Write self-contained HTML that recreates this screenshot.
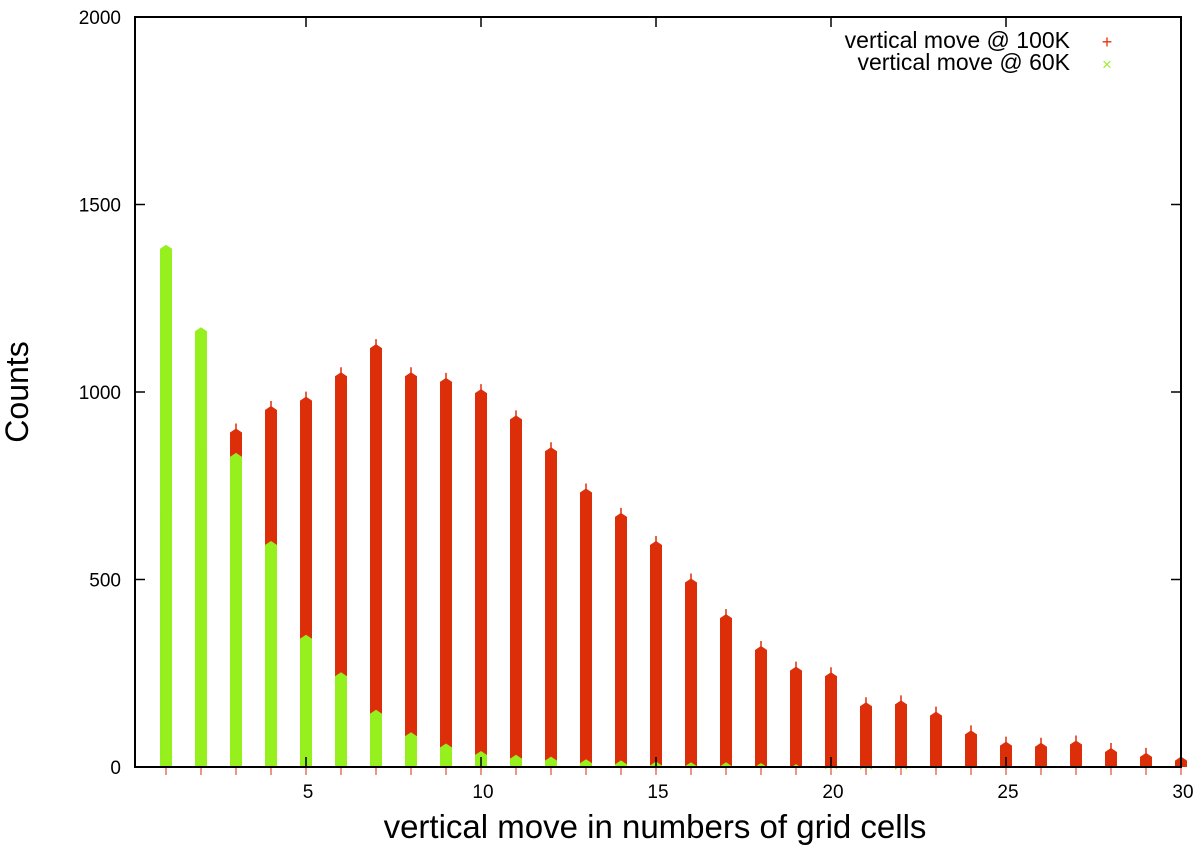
<!DOCTYPE html>
<html><head><meta charset="utf-8"><style>
body{margin:0;background:#fff}
svg{display:block;font-family:"Liberation Sans",sans-serif}
</style></head><body>
<svg id="chart" width="1200" height="845">
<g id="bars"></g>
<rect x="135" y="17" width="1046" height="750" fill="none" stroke="#000" stroke-width="2"/>
<g id="axes"></g>
<text x="28" y="392" font-size="32" text-anchor="middle" transform="rotate(-90 28 392)">Counts</text>
<text x="655" y="838" font-size="33" text-anchor="middle">vertical move in numbers of grid cells</text>
<g>
<text x="1070" y="48" font-size="23" text-anchor="end">vertical move @ 100K</text>
<text x="1107" y="48" font-size="18" fill="#e8320e" text-anchor="middle">+</text>
<text x="1070" y="70" font-size="23" text-anchor="end">vertical move @ 60K</text>
<text x="1107" y="70" font-size="17" fill="#9cf030" text-anchor="middle">×</text>
</g>
</svg>
<script>
const categories=[1,2,3,4,5,6,7,8,9,10,11,12,13,14,15,16,17,18,19,20,21,22,23,24,25,26,27,28,29,30];
const red100k=[700,850,900,960,985,1050,1125,1050,1035,1005,935,850,740,675,600,500,405,320,265,250,170,175,145,95,65,62,68,48,35,25];
const green60k=[1390,1170,835,600,350,250,150,90,60,40,30,25,18,15,12,10,10,8,5,2,1,1,0,0,0,0,0,0,0,0];
const yTicks=[0,500,1000,1500,2000];
const xTicks=[5,10,15,20,25,30];
const NS='http://www.w3.org/2000/svg';
const L=135,R=1181,T=17,B=767,XMIN=0.114,XMAX=30,YMAX=2000;
const X=v=>L+(v-XMIN)/(XMAX-XMIN)*(R-L);
const Y=v=>B-v/YMAX*(B-T);
function mk(tag,attrs,parent){const e=document.createElementNS(NS,tag);for(const k in attrs)e.setAttribute(k,attrs[k]);parent.appendChild(e);return e;}
const bars=document.getElementById('bars'),axes=document.getElementById('axes');
function bar(x,v,col){
  const w=12,top=Y(v);
  return mk('path',{d:`M${x-w/2},${B} L${x-w/2},${top+3} L${x},${top-1} L${x+w/2},${top+3} L${x+w/2},${B} Z`,fill:col},bars);
}
categories.forEach((c,i)=>{
  const x=X(c);
  const r=bar(x,red100k[i],'#dd2e0a');
  
  
  mk('line',{x1:x,x2:x,y1:Y(red100k[i])-6,y2:Y(red100k[i])+2,stroke:'#dd2e0a','stroke-width':1.5},bars);
  if(green60k[i]>0){
    const g=bar(x,green60k[i],'#96f01e');
    
    
  }
  mk('line',{x1:x,x2:x,y1:B,y2:B+8,stroke:'#dd2e0a','stroke-width':1},bars);
});
yTicks.forEach(t=>{
  const y=Y(t);
  mk('line',{x1:L,x2:L+10,y1:y,y2:y,stroke:'#000','stroke-width':1.5},axes);
  mk('line',{x1:R-10,x2:R,y1:y,y2:y,stroke:'#000','stroke-width':1.5},axes);
  const tx=mk('text',{x:L-14,y:y+7,'font-size':19,'text-anchor':'end'},axes);
  tx.textContent=t;
  
  
});
xTicks.forEach(t=>{
  const x=X(t);
  mk('line',{x1:x,x2:x,y1:B,y2:B-10,stroke:'#000','stroke-width':1.5},axes);
  mk('line',{x1:x,x2:x,y1:T,y2:T+10,stroke:'#000','stroke-width':1.5},axes);
  const tx=mk('text',{x:x+2,y:798,'font-size':19,'text-anchor':'middle'},axes);
  tx.textContent=t;
  
  
});
</script>
</body></html>
